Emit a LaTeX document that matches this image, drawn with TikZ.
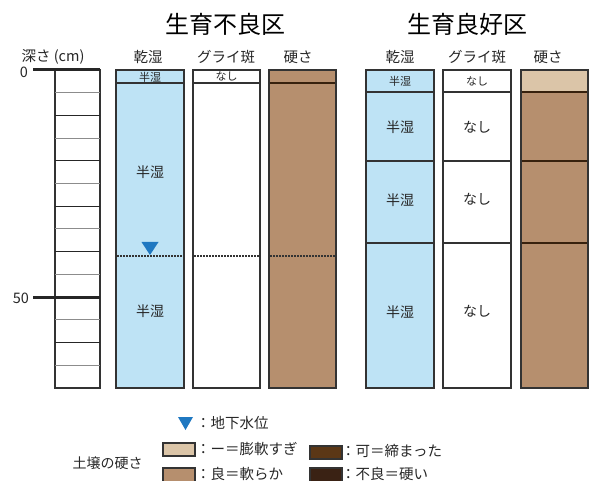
\documentclass[tikz,border=0pt]{standalone}
\usepackage{fontspec}
\setmainfont{Noto Sans CJK JP}
\definecolor{wet}{HTML}{BEE3F5}
\definecolor{soft}{HTML}{B68F6E}
\definecolor{tan}{HTML}{DBC5A8}
\definecolor{firm}{HTML}{5B3716}
\definecolor{hard}{HTML}{3A2214}
\definecolor{water}{HTML}{1F78C1}
\definecolor{edge}{HTML}{333333}
\tikzset{
  col/.style={draw=edge, line width=1.4pt},
  sep/.style={draw=edge, line width=1.9pt},
  ttl/.style={font=\fontsize{24}{26}\selectfont, inner sep=0pt},
  hdr/.style={font=\fontsize{14.5}{16}\selectfont, inner sep=0pt, text=black!85},
  big/.style={font=\fontsize{14}{16}\selectfont, inner sep=0pt, text=black!85},
  small/.style={font=\fontsize{11}{12}\selectfont, inner sep=0pt, text=black!85},
  leg/.style={font=\fontsize{14.5}{16}\selectfont, inner sep=0pt, text=black!85, anchor=west},
  wl/.style={draw=black!80, line width=1.2pt, dash pattern=on 1.5pt off 1.5pt},
  swatch/.style={draw=edge, line width=1.2pt},
  tick/.style={draw=black!85, line width=3pt}
}
\begin{document}
\begin{tikzpicture}[x=1pt,y=-1pt]
\useasboundingbox (0,0) rectangle (589,481);
% titles
\node[ttl] (t1) at (225,24) {生育不良区};
\node[ttl] (t2) at (467,24) {生育良好区};
% headers
\node[hdr] (hd) at (53,57) {深さ (cm)};
\node[hdr] (h1) at (148,57) {乾湿};
\node[hdr] (h2) at (226,57) {グライ斑};
\node[hdr] (h3) at (298,57) {硬さ};
\node[hdr] (h4) at (400,57) {乾湿};
\node[hdr] (h5) at (477,57) {グライ斑};
\node[hdr] (h6) at (548,57) {硬さ};
% depth scale
\draw[line width=1.3pt, draw=edge] (55,70) rectangle (100,388);
\foreach \k in {1,3,...,13} \draw[black!45, line width=1pt] (55,70+\k*22.7) -- (100,70+\k*22.7);
\foreach \k in {2,4,...,12} \draw[black!85, line width=1.2pt] (55,70+\k*22.7) -- (100,70+\k*22.7);
\draw[tick] (33,70) -- (100,70);
\draw[tick] (33,297) -- (100,297);
\node[hdr] (d0) at (24,72) {0};
\node[hdr] (d50) at (21,298) {50};
% ---- left group
\fill[wet] (116,70) rectangle (184,388);
\fill[soft] (269,70) rectangle (336,388);
\draw[sep] (116,83.3) -- (184,83.3);
\draw[sep] (193,83.3) -- (260,83.3);
\draw[sep, draw=firm!60!black] (269,83.3) -- (336,83.3);
\draw[wl] (117,256) -- (183,256);
\draw[wl] (194,256) -- (259,256);
\draw[wl] (270,256) -- (335,256);
\draw[col] (116,70) rectangle (184,388);
\draw[col] (193,70) rectangle (260,388);
\draw[col] (269,70) rectangle (336,388);
\node[small] (a1) at (150,77) {半湿};
\node[big] (a2) at (150,172) {半湿};
\node[big] (a3) at (150,311) {半湿};
\node[small] (b1) at (226.5,76.5) {なし};
\fill[water] (141.5,242) -- (158.5,242) -- (150,255) -- cycle;
% ---- right group
\fill[wet] (366,70) rectangle (434,388);
\fill[tan] (521,70) rectangle (588,92.3);
\fill[soft] (521,92.3) rectangle (588,388);
\foreach \y in {92.3,161,242.7} {
  \draw[sep] (366,\y) -- (434,\y);
  \draw[sep] (443,\y) -- (511,\y);
  \draw[sep, draw=firm!60!black] (521,\y) -- (588,\y);
}
\draw[col] (366,70) rectangle (434,388);
\draw[col] (443,70) rectangle (511,388);
\draw[col] (521,70) rectangle (588,388);
\node[small] (c1) at (400,81) {半湿};
\node[big] (c2) at (400,127) {半湿};
\node[big] (c3) at (400,200) {半湿};
\node[big] (c4) at (400,312) {半湿};
\node[small] (e1) at (477,81) {なし};
\node[big] (e2) at (477,127) {なし};
\node[big] (e3) at (477,199) {なし};
\node[big] (e4) at (477,311) {なし};
% ---- legend
\fill[water] (178,417) -- (193,417) -- (185.5,430) -- cycle;
\node[leg] (l0) at (196,423) {：地下水位};
\node[font=\fontsize{14}{16}\selectfont, inner sep=0pt, text=black!85] (l5) at (107.5,463) {土壌の硬さ};
\draw[swatch, fill=tan] (163,443) rectangle (195,456);
\node[leg] (l1) at (196,449.5) {：ー＝膨軟すぎ};
\draw[swatch, fill=soft] (163,468) rectangle (195,482);
\node[leg] (l2) at (196,474) {：良＝軟らか};
\draw[swatch, fill=firm] (310,446) rectangle (342,459);
\node[leg] (l3) at (341,451) {：可＝締まった};
\draw[swatch, fill=hard] (310,468) rectangle (342,482);
\node[leg] (l4) at (341,474) {：不良＝硬い};
\end{tikzpicture}
\end{document}
